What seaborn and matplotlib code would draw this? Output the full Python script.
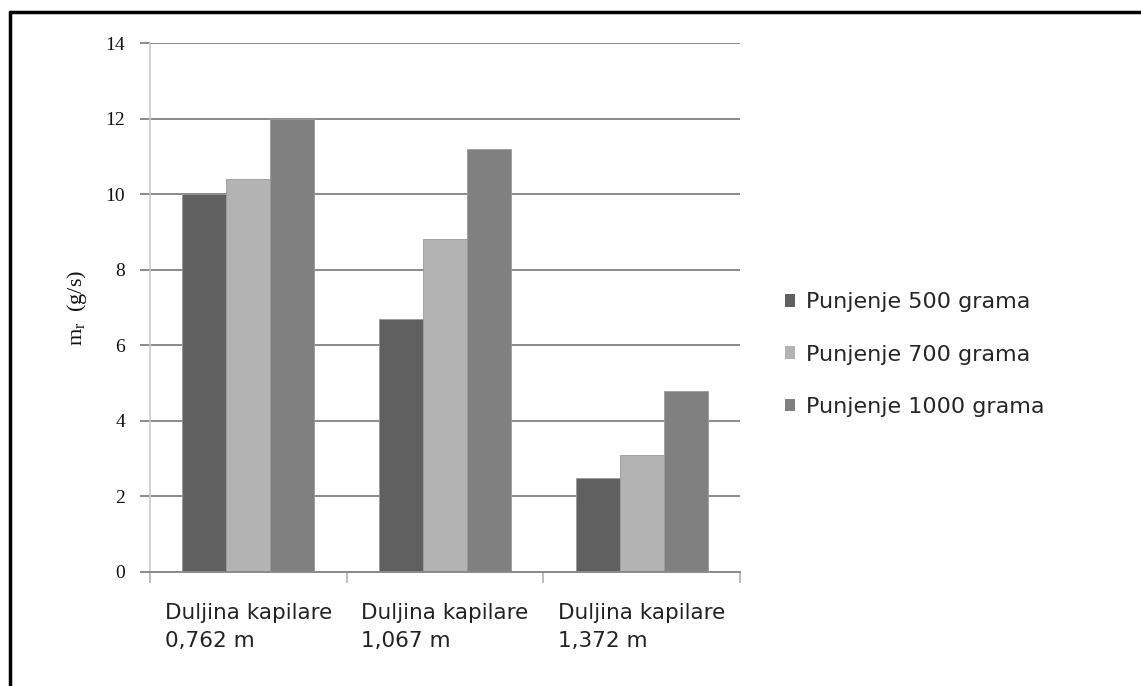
import matplotlib
matplotlib.use('Agg')
import matplotlib.pyplot as plt
import numpy as np
import pandas as pd
import seaborn as sns
from matplotlib.lines import Line2D

# Data
categories = ['Duljina kapilare\n0,762 m', 'Duljina kapilare\n1,067 m', 'Duljina kapilare\n1,372 m']
series = ['Punjenje 500 grama', 'Punjenje 700 grama', 'Punjenje 1000 grama']
punjenje_500 = [10.0, 6.7, 2.5]
punjenje_700 = [10.4, 8.8, 3.1]
punjenje_1000 = [12.0, 11.2, 4.8]
colors = ['#606060', '#b3b3b3', '#808080']
y_ticks = [0, 2, 4, 6, 8, 10, 12, 14]

df = pd.DataFrame({
    'kategorija': categories * 3,
    'serija': [s for s in series for _ in categories],
    'mr': punjenje_500 + punjenje_700 + punjenje_1000,
})

sns.set_theme(style='white')
plt.rcParams['font.family'] = ['DejaVu Sans']

fig = plt.figure(figsize=(11.41, 6.86), dpi=100)
ax = fig.add_axes([0.1315, 0.1662, 0.6486 - 0.1315, 0.9373 - 0.1662])

sns.barplot(data=df, x='kategorija', y='mr', hue='serija', hue_order=series,
            order=categories, palette=colors, width=0.67, gap=0,
            edgecolor='#9a9a9a', linewidth=0.6, ax=ax, legend=False)

ax.set_xlim(-0.5, 2.5)
ax.set_ylim(0, 14)
ax.set_yticks(y_ticks)
ax.set_yticklabels([str(t) for t in y_ticks], family='Liberation Serif',
                   fontsize=14, color='#111111')
ax.yaxis.grid(True, color='#8a8a8a', linewidth=1.4)
ax.set_axisbelow(True)
ax.tick_params(axis='y', length=7, width=1.4, color='#8a8a8a', pad=11, left=True)

# category labels at centres, tick marks at category borders
ax.set_xticks(range(len(categories)))
ax.set_xticklabels(categories, fontsize=15.5, multialignment='left', color='#222222',
                   linespacing=1.5)
ax.tick_params(axis='x', which='major', length=0, pad=22)
ax.set_xticks(np.arange(-0.5, 2.6, 1.0), minor=True)
ax.tick_params(axis='x', which='minor', length=8, width=1.2, color='#b0b0b0',
               bottom=True)

ax.set_xlabel('')
ax.set_ylabel(r'm$_\mathregular{r}$  (g/s)', family='Liberation Serif', fontsize=16,
              labelpad=12, color='#111111')

for side in ['top', 'right']:
    ax.spines[side].set_visible(False)
ax.spines['left'].set_color('#c8c8c8')
ax.spines['left'].set_linewidth(1.2)
ax.spines['bottom'].set_color('#8a8a8a')
ax.spines['bottom'].set_linewidth(1.4)

handles = [plt.Rectangle((0, 0), 1, 1, facecolor=c, edgecolor='none') for c in colors]
fig.legend(handles, series, loc='upper left', bbox_to_anchor=(0.678, 0.59),
           frameon=False, fontsize=16, handlelength=0.45, handleheight=0.5,
           handletextpad=0.5, labelspacing=1.45, borderpad=0)

# outer black frame (top and left edges visible)
fig.add_artist(Line2D([10 / 1141, 1.0], [1 - 12 / 686, 1 - 12 / 686],
                      transform=fig.transFigure, color='black', linewidth=2.5))
fig.add_artist(Line2D([10 / 1141, 10 / 1141], [0.0, 1 - 12 / 686],
                      transform=fig.transFigure, color='black', linewidth=2.5))

fig.savefig('out.png', dpi=100)
